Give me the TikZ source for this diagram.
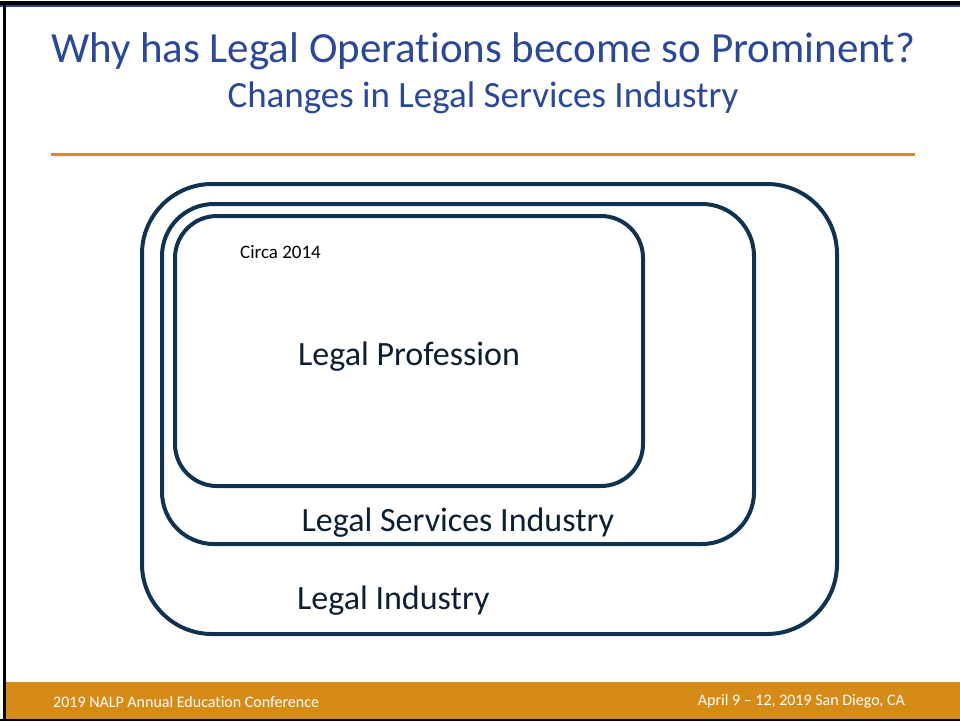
\documentclass[tikz,border=0pt]{standalone}
\usepackage{fontspec}
\setmainfont{Carlito}[Ligatures=NoCommon]
\definecolor{titleblue}{RGB}{43,72,152}
\definecolor{boxnavy}{RGB}{14,50,79}
\definecolor{labelnavy}{RGB}{12,30,50}
\definecolor{nalporange}{RGB}{214,139,24}
\begin{document}
\begin{tikzpicture}[x=1pt, y=-1pt,
    area/.style={rectangle, draw=boxnavy, line width=4pt, inner sep=0pt},
    areatext/.style={anchor=base west, inner sep=0pt, text=labelnavy, font=\fontsize{34}{40}\selectfont},
    headline/.style={anchor=base, inner sep=0pt, text=titleblue},
    footertext/.style={inner sep=0pt, text=white, font=\fontsize{16}{19}\selectfont}
]
    \useasboundingbox (0,0) rectangle (960,721);

    % Rahmen und Fusszeile
    \fill[black] (0,0.5) rectangle (960,5);
    \fill[titleblue] (0,5) rectangle (960,7);
    \fill[nalporange] (6,682) rectangle (960,719);
    \fill[black] (0,719) rectangle (960,721);
    \fill[black] (3,0.5) rectangle (6,721);

    % Titel
    \node[headline, font=\fontsize{43}{50}\selectfont] (title) at (483,62) {Why has Legal Operations become so Prominent?};
    \node[headline, font=\fontsize{37}{44}\selectfont] (subtitle) at (483,107) {Changes in Legal Services Industry};
    \draw[nalporange, line width=3pt] (51,154) -- (915,154);

    % Bereiche
    \node[area, rounded corners=70pt, minimum width=695pt, minimum height=450pt] (industrybox) at (489.5,409) {};
    \node[area, rounded corners=52pt, minimum width=592pt, minimum height=340pt] (servicesbox) at (458,374) {};
    \node[area, rounded corners=42pt, minimum width=468pt, minimum height=270pt] (professionbox) at (409,351) {};

    \node[anchor=base west, inner sep=0pt, font=\fontsize{19}{22}\selectfont] (circa) at (240,258) {Circa 2014};
    \node[areatext] (professiontext) at (298,365) {Legal Profession};
    \node[areatext] (servicestext) at (301.5,531.5) {Legal Services Industry};
    \node[areatext] (industrytext) at (297,609) {Legal Industry};

    % Fusszeile
    \node[footertext, anchor=base west] (conference) at (53,707.5) {2019 NALP Annual Education Conference};
    \node[footertext, anchor=base east] (venue) at (905,705.5) {April 9 – 12, 2019 San Diego, CA};
\end{tikzpicture}
\end{document}
